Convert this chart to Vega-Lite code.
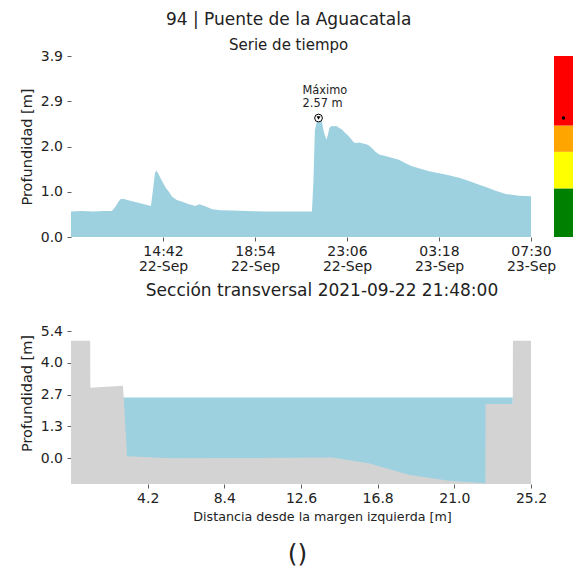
{
  "$schema": "https://vega.github.io/schema/vega-lite/v6.json",
  "padding": {"left": 19, "top": 11, "right": 7, "bottom": 6},
  "config": {
    "font": "DejaVu Sans",
    "view": {"stroke": null},
    "axis": {"domain": false, "grid": false, "tickSize": 4, "tickColor": "#333", "tickWidth": 0.8, "labelColor": "#222", "titleColor": "#222", "labelFontSize": 14, "titleFontSize": 14.5, "titleFontWeight": "normal", "labelPadding": 4.5, "labelOverlap": false},
    "title": {"fontWeight": "normal", "color": "#222"}
  },
  "datasets": {
    "serie": [
      {"t": "2021-09-22T10:30:00Z", "h": 0.55},
      {"t": "2021-09-22T11:00:00Z", "h": 0.56},
      {"t": "2021-09-22T11:30:00Z", "h": 0.55},
      {"t": "2021-09-22T12:00:00Z", "h": 0.56},
      {"t": "2021-09-22T12:22:00Z", "h": 0.56},
      {"t": "2021-09-22T12:32:00Z", "h": 0.66},
      {"t": "2021-09-22T12:40:00Z", "h": 0.76},
      {"t": "2021-09-22T12:46:00Z", "h": 0.82},
      {"t": "2021-09-22T12:55:00Z", "h": 0.82},
      {"t": "2021-09-22T13:10:00Z", "h": 0.79},
      {"t": "2021-09-22T13:23:00Z", "h": 0.76},
      {"t": "2021-09-22T13:45:00Z", "h": 0.72},
      {"t": "2021-09-22T14:04:00Z", "h": 0.68},
      {"t": "2021-09-22T14:09:00Z", "h": 0.67},
      {"t": "2021-09-22T14:15:00Z", "h": 1.05},
      {"t": "2021-09-22T14:20:00Z", "h": 1.38},
      {"t": "2021-09-22T14:23:00Z", "h": 1.43},
      {"t": "2021-09-22T14:27:00Z", "h": 1.40},
      {"t": "2021-09-22T14:31:00Z", "h": 1.34},
      {"t": "2021-09-22T14:40:00Z", "h": 1.20},
      {"t": "2021-09-22T14:50:00Z", "h": 1.06},
      {"t": "2021-09-22T14:58:00Z", "h": 0.98},
      {"t": "2021-09-22T15:07:00Z", "h": 0.87},
      {"t": "2021-09-22T15:20:00Z", "h": 0.80},
      {"t": "2021-09-22T15:35:00Z", "h": 0.76},
      {"t": "2021-09-22T15:53:00Z", "h": 0.71},
      {"t": "2021-09-22T16:11:00Z", "h": 0.67},
      {"t": "2021-09-22T16:21:00Z", "h": 0.71},
      {"t": "2021-09-22T16:28:00Z", "h": 0.69},
      {"t": "2021-09-22T16:39:00Z", "h": 0.66},
      {"t": "2021-09-22T16:57:00Z", "h": 0.60},
      {"t": "2021-09-22T17:20:00Z", "h": 0.58},
      {"t": "2021-09-22T17:51:00Z", "h": 0.57},
      {"t": "2021-09-22T18:30:00Z", "h": 0.56},
      {"t": "2021-09-22T19:24:00Z", "h": 0.55},
      {"t": "2021-09-22T20:30:00Z", "h": 0.55},
      {"t": "2021-09-22T21:30:00Z", "h": 0.55},
      {"t": "2021-09-22T21:34:00Z", "h": 1.20},
      {"t": "2021-09-22T21:38:00Z", "h": 2.30},
      {"t": "2021-09-22T21:44:00Z", "h": 2.52},
      {"t": "2021-09-22T21:48:00Z", "h": 2.57},
      {"t": "2021-09-22T21:53:00Z", "h": 2.55},
      {"t": "2021-09-22T21:57:00Z", "h": 2.50},
      {"t": "2021-09-22T22:03:00Z", "h": 2.25},
      {"t": "2021-09-22T22:10:00Z", "h": 2.10},
      {"t": "2021-09-22T22:14:00Z", "h": 2.22},
      {"t": "2021-09-22T22:18:00Z", "h": 2.36},
      {"t": "2021-09-22T22:24:00Z", "h": 2.40},
      {"t": "2021-09-22T22:30:00Z", "h": 2.39},
      {"t": "2021-09-22T22:37:00Z", "h": 2.40},
      {"t": "2021-09-22T22:44:00Z", "h": 2.36},
      {"t": "2021-09-22T22:52:00Z", "h": 2.32},
      {"t": "2021-09-22T23:02:00Z", "h": 2.24},
      {"t": "2021-09-22T23:09:00Z", "h": 2.19},
      {"t": "2021-09-22T23:16:00Z", "h": 2.13},
      {"t": "2021-09-22T23:25:00Z", "h": 2.04},
      {"t": "2021-09-22T23:32:00Z", "h": 2.03},
      {"t": "2021-09-22T23:39:00Z", "h": 2.04},
      {"t": "2021-09-22T23:50:00Z", "h": 2.02},
      {"t": "2021-09-23T00:01:00Z", "h": 2.00},
      {"t": "2021-09-23T00:07:00Z", "h": 1.97},
      {"t": "2021-09-23T00:14:00Z", "h": 1.92},
      {"t": "2021-09-23T00:24:00Z", "h": 1.84},
      {"t": "2021-09-23T00:34:00Z", "h": 1.78},
      {"t": "2021-09-23T01:01:00Z", "h": 1.73},
      {"t": "2021-09-23T01:28:00Z", "h": 1.67},
      {"t": "2021-09-23T01:45:00Z", "h": 1.60},
      {"t": "2021-09-23T02:04:00Z", "h": 1.53},
      {"t": "2021-09-23T02:30:00Z", "h": 1.47},
      {"t": "2021-09-23T02:51:00Z", "h": 1.42},
      {"t": "2021-09-23T03:15:00Z", "h": 1.38},
      {"t": "2021-09-23T03:36:00Z", "h": 1.35},
      {"t": "2021-09-23T04:13:00Z", "h": 1.28},
      {"t": "2021-09-23T04:40:00Z", "h": 1.21},
      {"t": "2021-09-23T05:08:00Z", "h": 1.13},
      {"t": "2021-09-23T05:30:00Z", "h": 1.07},
      {"t": "2021-09-23T05:53:00Z", "h": 1.00},
      {"t": "2021-09-23T06:21:00Z", "h": 0.93},
      {"t": "2021-09-23T06:57:00Z", "h": 0.89},
      {"t": "2021-09-23T07:30:00Z", "h": 0.88}
    ],
    "maximo": [
      {"t": "2021-09-22T21:48:00Z", "h": 2.57, "etiqueta": "Máximo\n2.57 m"}
    ],
    "niveles": [
      {"nivel": "N1", "desde": 0, "hasta": 1.05},
      {"nivel": "N2", "desde": 1.05, "hasta": 1.84},
      {"nivel": "N3", "desde": 1.84, "hasta": 2.41},
      {"nivel": "N4", "desde": 2.41, "hasta": 3.91}
    ],
    "agua": [
      {"d": 2.85, "z": 2.57},
      {"d": 24.2, "z": 2.57}
    ],
    "seccion": [
      {"d": 0, "z": 4.97},
      {"d": 1.05, "z": 4.97},
      {"d": 1.06, "z": 2.98},
      {"d": 2.85, "z": 3.06},
      {"d": 3.07, "z": 0.08},
      {"d": 5.5, "z": 0.0},
      {"d": 9.0, "z": 0.01},
      {"d": 14.3, "z": 0.03},
      {"d": 16.3, "z": -0.21},
      {"d": 18.5, "z": -0.70},
      {"d": 20.7, "z": -0.95},
      {"d": 22.7, "z": -1.06},
      {"d": 22.71, "z": 2.29},
      {"d": 24.2, "z": 2.29},
      {"d": 24.21, "z": 4.97},
      {"d": 25.2, "z": 4.97}
    ]
  },
  "title": {"text": "()", "orient": "bottom", "fontSize": 25, "anchor": "middle", "frame": "bounds", "dx": 1.5, "offset": 19},
  "spacing": 9,
  "resolve": {"scale": {"x": "independent", "y": "independent"}},
  "vconcat": [
    {
      "title": {"text": "94 | Puente de la Aguacatala", "subtitle": "Serie de tiempo", "fontSize": 17, "subtitleFontSize": 15, "subtitleColor": "#222", "anchor": "middle", "frame": "bounds", "dx": -7.5, "offset": -5, "subtitlePadding": 9},
      "spacing": 23,
      "bounds": "flush",
      "resolve": {"scale": {"y": "independent"}},
      "hconcat": [
        {
          "width": 460,
          "height": 181,
          "layer": [
            {
              "data": {"name": "serie"},
              "mark": {"type": "area", "color": "#9dd1e0", "opacity": 1},
              "encoding": {
                "x": {"field": "t", "type": "temporal",
                  "scale": {"type": "utc", "domain": [{"year": 2021, "month": 9, "date": 22, "hours": 10, "minutes": 30, "utc": true}, {"year": 2021, "month": 9, "date": 23, "hours": 7, "minutes": 30, "utc": true}]},
                  "axis": {"title": null, "values": [
                    {"year": 2021, "month": 9, "date": 22, "hours": 14, "minutes": 42, "utc": true},
                    {"year": 2021, "month": 9, "date": 22, "hours": 18, "minutes": 54, "utc": true},
                    {"year": 2021, "month": 9, "date": 22, "hours": 23, "minutes": 6, "utc": true},
                    {"year": 2021, "month": 9, "date": 23, "hours": 3, "minutes": 18, "utc": true},
                    {"year": 2021, "month": 9, "date": 23, "hours": 7, "minutes": 30, "utc": true}],
                    "tickCount": 10,
                    "labelExpr": "[utcFormat(datum.value, '%H:%M'), utcFormat(datum.value, '%d-%b')]",
                    "labelLineHeight": 15, "labelOverlap": false, "labelFlush": false, "labelBound": false, "labelPadding": 3}},
                "y": {"field": "h", "type": "quantitative",
                  "scale": {"domain": [0, 3.91], "nice": false, "zero": false},
                  "axis": {"title": "Profundidad [m]", "values": [0, 0.9775, 1.955, 2.9325, 3.91], "tickCount": 10, "format": ".1f", "titlePadding": 6}}
              }
            },
            {
              "data": {"name": "maximo"},
              "mark": {"type": "point", "shape": "circle", "filled": true, "fill": "white", "stroke": "black", "strokeWidth": 1, "size": 60, "opacity": 1},
              "encoding": {"x": {"field": "t", "type": "temporal"}, "y": {"field": "h", "type": "quantitative"}}
            },
            {
              "data": {"name": "maximo"},
              "mark": {"type": "point", "shape": "triangle-down", "filled": true, "color": "black", "size": 16, "opacity": 1},
              "encoding": {"x": {"field": "t", "type": "temporal"}, "y": {"field": "h", "type": "quantitative"}}
            },
            {
              "data": {"name": "maximo"},
              "mark": {"type": "text", "align": "left", "baseline": "bottom", "dx": -16, "dy": -22, "fontSize": 11.4, "lineBreak": "\n", "lineHeight": 13, "color": "#222"},
              "encoding": {"x": {"field": "t", "type": "temporal"}, "y": {"field": "h", "type": "quantitative"}, "text": {"field": "etiqueta"}}
            }
          ]
        },
        {
          "width": 19,
          "height": 181,
          "layer": [
            {
              "data": {"name": "niveles"},
              "mark": {"type": "rect"},
              "encoding": {
                "y": {"field": "desde", "type": "quantitative", "scale": {"domain": [0, 3.91], "nice": false, "zero": false}, "axis": null},
                "y2": {"field": "hasta"},
                "color": {"field": "nivel", "type": "nominal", "scale": {"domain": ["N1", "N2", "N3", "N4"], "range": ["#008000", "#ffff00", "#ffa500", "#ff0000"]}, "legend": null}
              }
            },
            {
              "data": {"name": "maximo"},
              "mark": {"type": "point", "filled": true, "color": "black", "size": 12, "opacity": 1},
              "encoding": {"y": {"field": "h", "type": "quantitative"}}
            }
          ]
        }
      ]
    },
    {
      "width": 460,
      "height": 153,
      "title": {"text": "Sección transversal 2021-09-22 21:48:00", "fontSize": 17, "anchor": "middle", "frame": "group", "dx": 21, "offset": 24},
      "layer": [
        {
          "data": {"name": "agua"},
          "mark": {"type": "area", "color": "#9dd1e0", "opacity": 1},
          "encoding": {
            "x": {"field": "d", "type": "quantitative", "scale": {"domain": [0, 25.2], "nice": false, "zero": false},
              "axis": {"title": "Distancia desde la margen izquierda [m]", "values": [4.2, 8.4, 12.6, 16.8, 21.0, 25.2], "tickCount": 12, "format": ".1f", "titleFontSize": 12.7, "titleX": 251, "titlePadding": 5, "labelPadding": 3, "labelFlush": false, "labelOverlap": false}},
            "y": {"field": "z", "type": "quantitative", "scale": {"domain": [-1.09, 5.38], "nice": false, "zero": false},
              "axis": {"title": "Profundidad [m]", "values": [0, 1.345, 2.69, 4.035, 5.38], "tickCount": 10, "format": ".1f", "titlePadding": 6, "titleY": 62, "labelOverlap": false}},
            "y2": {"datum": -1.09}
          }
        },
        {
          "data": {"name": "seccion"},
          "mark": {"type": "area", "color": "#d3d3d3", "opacity": 1},
          "encoding": {
            "x": {"field": "d", "type": "quantitative"},
            "y": {"field": "z", "type": "quantitative"},
            "y2": {"datum": -1.09}
          }
        }
      ]
    }
  ]
}
